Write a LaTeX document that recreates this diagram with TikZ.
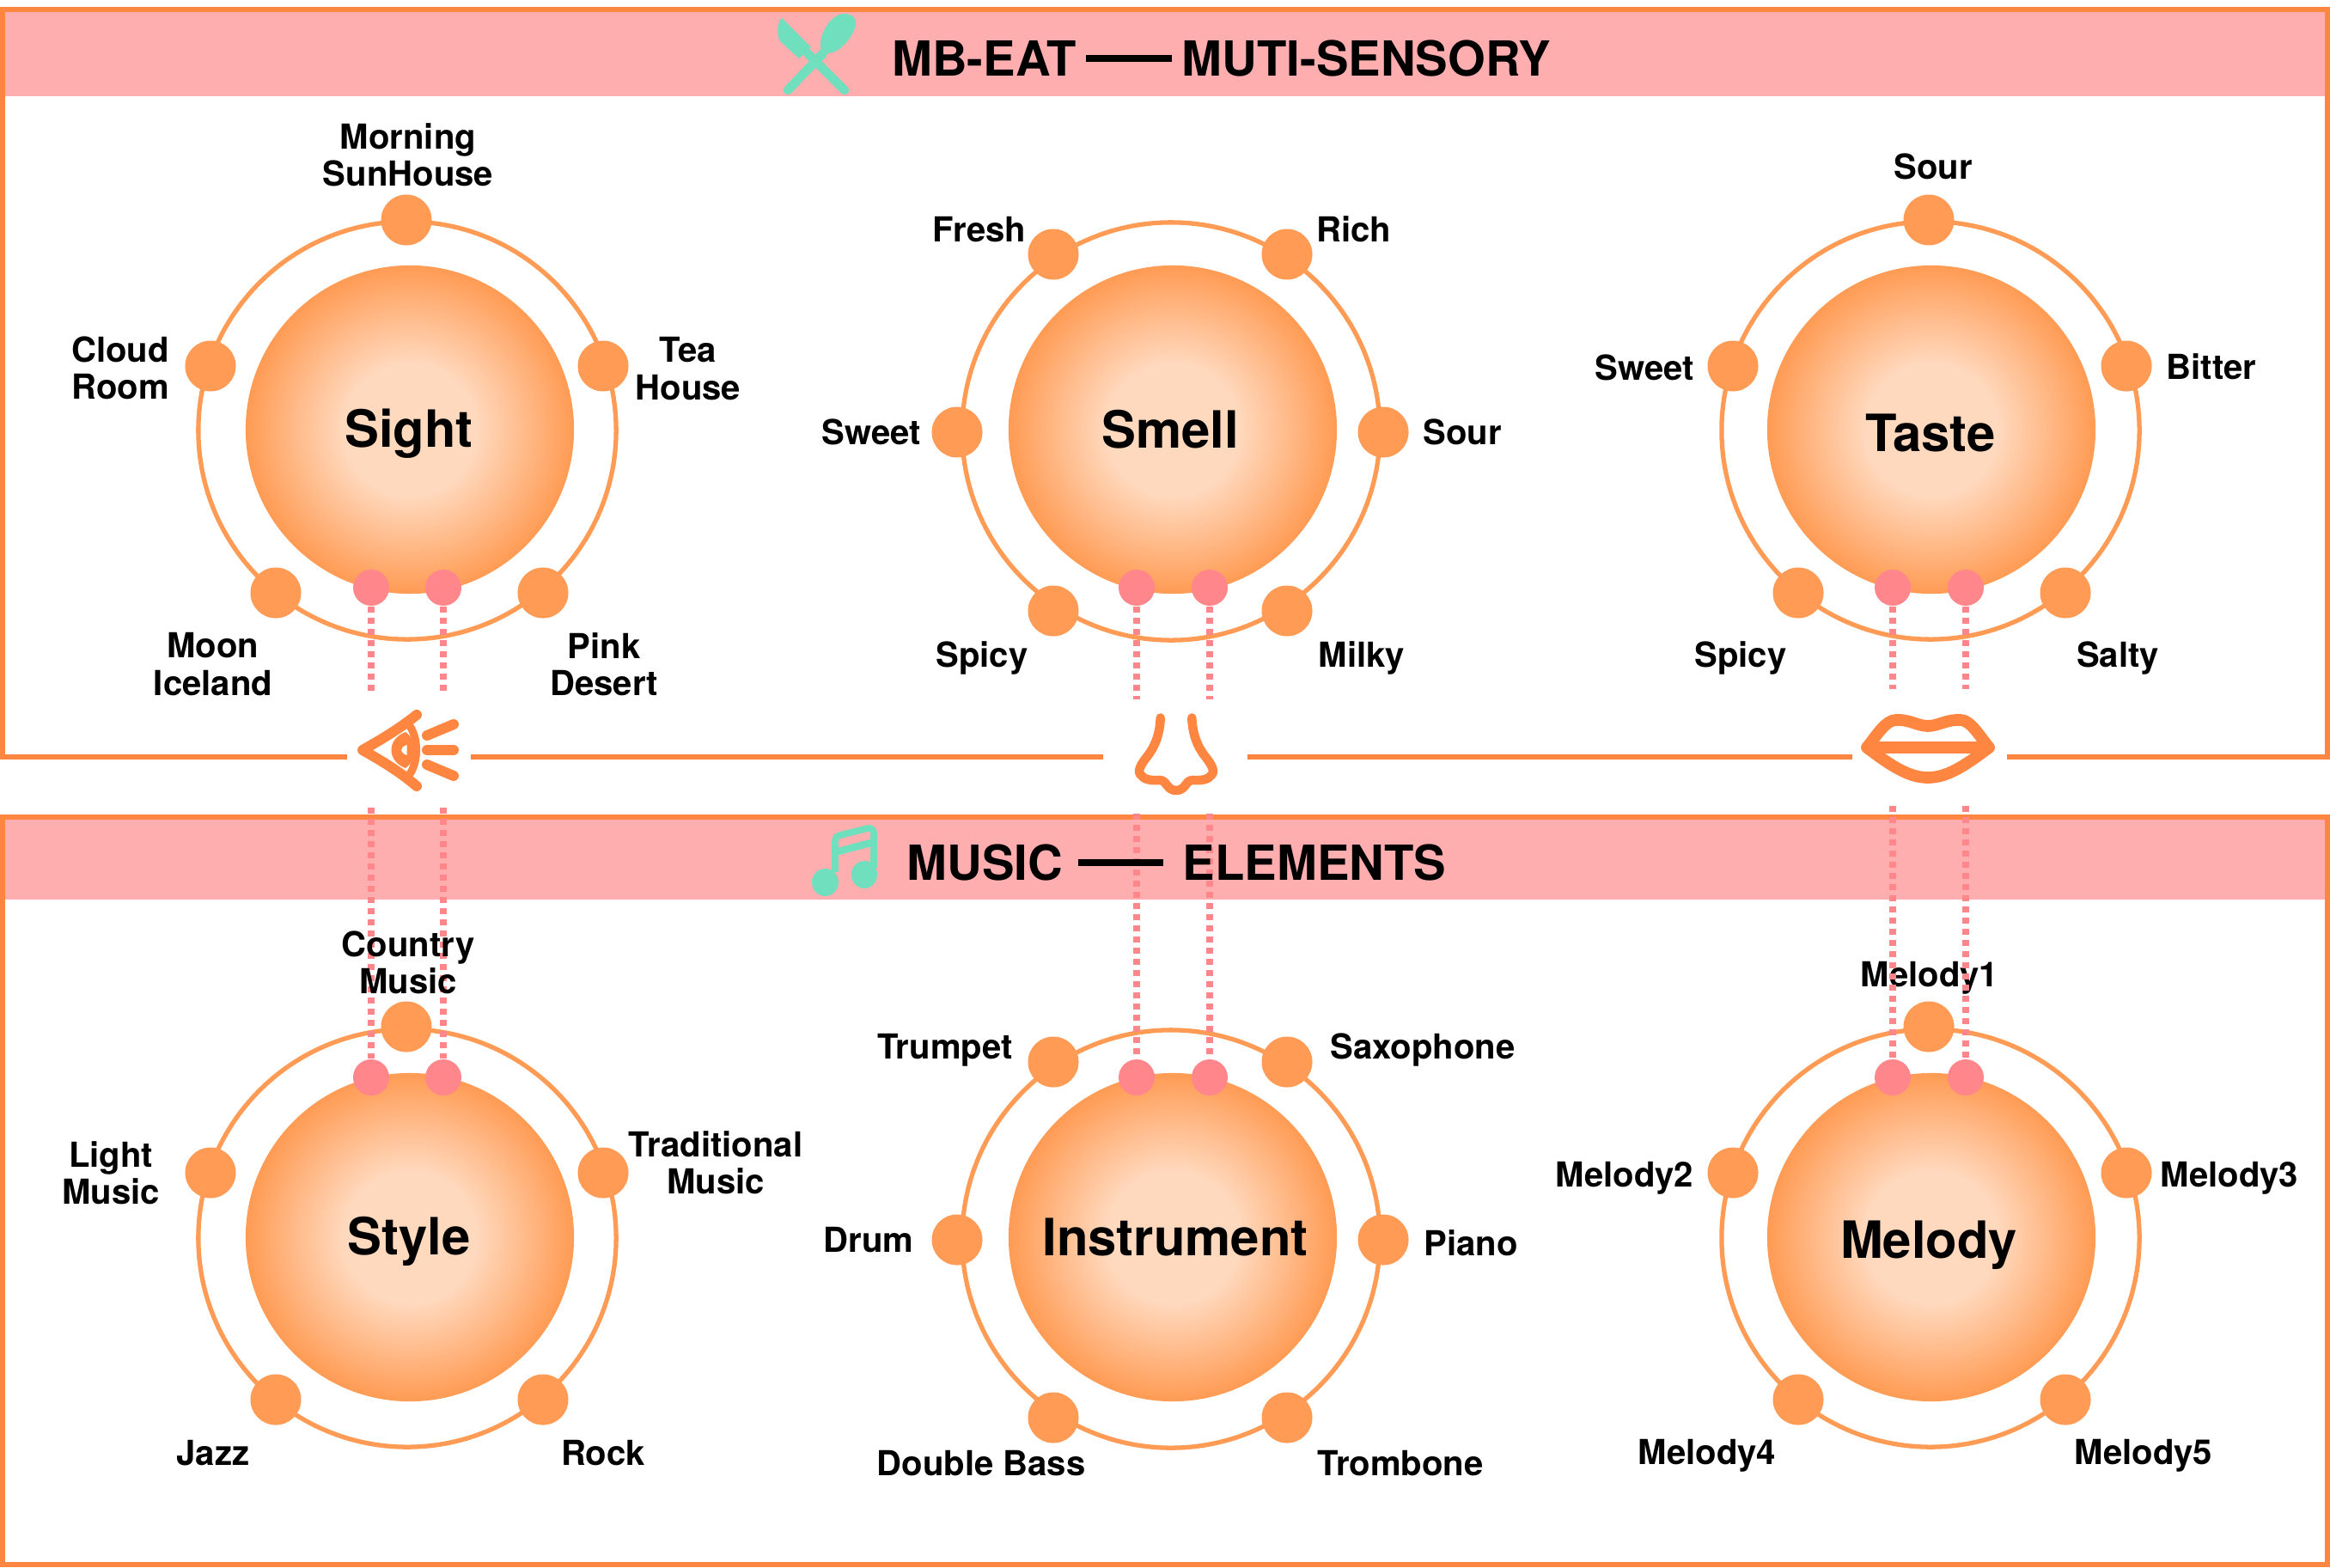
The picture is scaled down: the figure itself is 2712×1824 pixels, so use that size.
\documentclass[tikz,border=0pt]{standalone}
\usepackage{fontspec}
\setmainfont{TeX Gyre Heros}
\usetikzlibrary{calc, positioning}
\definecolor{lineorange}{HTML}{FF8640}
\definecolor{dotorange}{HTML}{FF9B54}
\definecolor{orbcore}{HTML}{FFD9BE}
\definecolor{bandpink}{HTML}{FFAEB0}
\definecolor{linkpink}{HTML}{FF868B}
\definecolor{iconteal}{HTML}{6FDFBD}
\pgfdeclareradialshading{orbshade}{\pgfpoint{0bp}{0bp}}{color(0bp)=(orbcore); color(10bp)=(orbcore); color(25bp)=(dotorange); color(50bp)=(dotorange)}
\tikzset{
  frameline/.style={lineorange, line width=1.71pt},
  ring/.style={circle, draw=dotorange, line width=1.5pt, minimum size=4.86cm, inner sep=0pt},
  orb/.style={circle, shading=orbshade, minimum size=3.82cm, inner sep=0pt},
  orbname/.style={font=\fontsize{17}{18}\selectfont\bfseries},
  sensedot/.style={circle, fill=dotorange, minimum size=0.59cm, inner sep=0pt},
  linkdot/.style={circle, fill=linkpink, minimum size=0.42cm, inner sep=0pt},
  linkline/.style={linkpink, line width=2.28pt, dash pattern=on 1.99pt off 1.71pt},
  itemname/.style={align=center, inner sep=0pt, font=\fontsize{11.4}{12.3}\selectfont\bfseries},
  headname/.style={inner xsep=0.11cm, inner ysep=0pt, font=\fontsize{16}{17}\selectfont\bfseries},
  headrule/.style={line width=2.2pt},
  iconline/.style={lineorange, line width=3.4pt, line cap=round, line join=round},
}
\begin{document}
\begin{tikzpicture}[x=0.01cm,y=-0.01cm]
\useasboundingbox (0,0) rectangle (2712,1824);

\fill[bandpink] (6,14) rectangle (2706,112);
\fill[bandpink] (6,954) rectangle (2706,1047);
\draw[frameline] (404,881) -- (3,881) -- (3,11) -- (2709,11) -- (2709,881) -- (2336,881);
\draw[frameline] (548,881) -- (1284,881);
\draw[frameline] (1452,881) -- (2156,881);
\draw[frameline] (3,951) rectangle (2709,1821);

\node[ring] (sightring) at (474,501) {};
\node[ring] (smellring) at (1363,502) {};
\node[ring] (tastering) at (2247,501) {};
\node[ring] (stylering) at (474,1441) {};
\node[ring] (instrring) at (1363,1442) {};
\node[ring] (melodyring) at (2247,1441) {};

\node[orb] (sight) at (477,500) {};
\node[orb] (smell) at (1365,500) {};
\node[orb] (taste) at (2248,500) {};
\node[orb] (style) at (477,1440) {};
\node[orb] (instr) at (1365,1440) {};
\node[orb] (melody) at (2248,1440) {};

\node[sensedot] (sighta) at (473,256) {};
\node[sensedot] (sightb) at (245,426) {};
\node[sensedot] (sightc) at (702,426) {};
\node[sensedot] (sightd) at (321,690) {};
\node[sensedot] (sighte) at (632,690) {};
\node[sensedot] (smella) at (1226,296) {};
\node[sensedot] (smellb) at (1498,296) {};
\node[sensedot] (smellc) at (1114,503) {};
\node[sensedot] (smelld) at (1610,503) {};
\node[sensedot] (smelle) at (1226,711) {};
\node[sensedot] (smellf) at (1498,711) {};
\node[sensedot] (tastea) at (2245,256) {};
\node[sensedot] (tasteb) at (2017,426) {};
\node[sensedot] (tastec) at (2475,426) {};
\node[sensedot] (tasted) at (2093,690) {};
\node[sensedot] (tastee) at (2404,690) {};
\node[sensedot] (stylea) at (473,1195) {};
\node[sensedot] (styleb) at (245,1365) {};
\node[sensedot] (stylec) at (702,1365) {};
\node[sensedot] (styled) at (321,1629) {};
\node[sensedot] (stylee) at (632,1629) {};
\node[sensedot] (instra) at (1226,1236) {};
\node[sensedot] (instrb) at (1498,1236) {};
\node[sensedot] (instrc) at (1114,1443) {};
\node[sensedot] (instrd) at (1610,1443) {};
\node[sensedot] (instre) at (1226,1650) {};
\node[sensedot] (instrf) at (1498,1650) {};
\node[sensedot] (melodya) at (2245,1195) {};
\node[sensedot] (melodyb) at (2017,1365) {};
\node[sensedot] (melodyc) at (2475,1365) {};
\node[sensedot] (melodyd) at (2093,1629) {};
\node[sensedot] (melodye) at (2404,1629) {};

\node[linkdot] (sightl) at (432,684) {};
\node[linkdot] (sightr) at (516,684) {};
\node[linkdot] (smelll) at (1323,684) {};
\node[linkdot] (smellr) at (1408,684) {};
\node[linkdot] (tastel) at (2203,684) {};
\node[linkdot] (taster) at (2288,684) {};
\node[linkdot] (stylel) at (432,1254) {};
\node[linkdot] (styler) at (516,1254) {};
\node[linkdot] (instrl) at (1323,1254) {};
\node[linkdot] (instrr) at (1408,1254) {};
\node[linkdot] (melodyl) at (2203,1254) {};
\node[linkdot] (melodyr) at (2288,1254) {};

\node[itemname] (melodyi) at (2246,1138) {Melody1};

\coordinate (sightlend) at (432,806);
\coordinate (sightrend) at (516,806);
\coordinate (smelllend) at (1323,814);
\coordinate (smellrend) at (1408,814);
\coordinate (tastelend) at (2203,802);
\coordinate (tasterend) at (2288,802);
\coordinate (stylelend) at (432,940);
\coordinate (stylerend) at (516,940);
\coordinate (instrlend) at (1323,947);
\coordinate (instrrend) at (1408,947);
\coordinate (melodylend) at (2203,938);
\coordinate (melodyrend) at (2288,938);
\draw[linkline] (sightl.south) -- (sightlend);
\draw[linkline] (sightr.south) -- (sightrend);
\draw[linkline] (smelll.south) -- (smelllend);
\draw[linkline] (smellr.south) -- (smellrend);
\draw[linkline] (tastel.south) -- (tastelend);
\draw[linkline] (taster.south) -- (tasterend);
\draw[linkline] (stylelend) -- (stylel.north);
\draw[linkline] (stylerend) -- (styler.north);
\draw[linkline] (instrlend) -- (instrl.north);
\draw[linkline] (instrrend) -- (instrr.north);
\draw[linkline] (melodylend) -- (melodyl.north);
\draw[linkline] (melodyrend) -- (melodyr.north);

\node[headname] (eatname) at (1145.5,68) {MB-EAT};
\node[headname] (sensename) at (1590.5,68) {MUTI-SENSORY};
\draw[headrule] (eatname) -- (sensename);
\node[headname, inner xsep=0.17cm] (musicname) at (1146.5,1004) {MUSIC};
\node[headname, inner xsep=0.22cm] (elemname) at (1530,1004) {ELEMENTS};
\draw[headrule] (musicname) -- (elemname);

\node[orbname] (sightname) at (476,505) {Sight};
\node[orbname] (smellname) at (1362,500) {Smell};
\node[orbname] (tastename) at (2247,504) {Taste};
\node[orbname] (stylename) at (476,1445) {Style};
\node[orbname] (instrname) at (1368,1440) {Instrument};
\node[orbname] (melodyname) at (2245,1449) {Melody};

\node[itemname] (morning) at (475,180) {Morning\\SunHouse};
\node[itemname] (cloud) at (140,428) {Cloud\\Room};
\node[itemname] (tea) at (801,429) {Tea\\House};
\node[itemname] (moon) at (248,773) {Moon\\Iceland};
\node[itemname] (desert) at (703,773) {Pink\\Desert};
\node[itemname] (fresh) at (1140,267) {Fresh};
\node[itemname] (rich) at (1576,267) {Rich};
\node[itemname] (sweeta) at (1014,503) {Sweet};
\node[itemname] (soura) at (1702,503) {Sour};
\node[itemname] (spicya) at (1143,766) {Spicy};
\node[itemname] (milky) at (1585,766) {Milky};
\node[itemname] (sourb) at (2250,194) {Sour};
\node[itemname] (sweetb) at (1914,428) {Sweet};
\node[itemname] (bitter) at (2574,427) {Bitter};
\node[itemname] (spicyb) at (2026,766) {Spicy};
\node[itemname] (salty) at (2465,766) {Salty};
\node[itemname] (country) at (475,1120) {Country\\Music};
\node[itemname] (light) at (129,1365) {Light\\Music};
\node[itemname] (tradition) at (833,1353) {Traditional\\Music};
\node[itemname] (jazz) at (248,1691) {Jazz};
\node[itemname] (rock) at (702,1691) {Rock};
\node[itemname] (trumpet) at (1100,1222) {Trumpet};
\node[itemname] (saxophone) at (1656,1222) {Saxophone};
\node[itemname] (drum) at (1011,1443) {Drum};
\node[itemname] (piano) at (1712,1447) {Piano};
\node[itemname] (bass) at (1142,1703) {Double Bass};
\node[itemname] (trombone) at (1630,1703) {Trombone};
\node[itemname] (melodyii) at (1891,1371) {Melody2};
\node[itemname] (melodyiii) at (2595,1371) {Melody3};
\node[itemname] (melodyiv) at (1987,1694) {Melody4};
\node[itemname] (melodyv) at (2495,1694) {Melody5};

\fill[iconteal] (910,21) .. controls (905,26) and (904,36) .. (907,47) -- (930,68) -- (944,55) -- cycle;
\fill[iconteal] (982,16) .. controls (966,17) and (954,40) .. (955,54) .. controls (955,64) and (966,63) .. (974,59) .. controls (986,52) and (997,34) .. (996,27) .. controls (996,19) and (990,16) .. (982,16) -- cycle;
\draw[iconteal, line width=3pt, line cap=round] (958,62) -- (917,105);
\draw[iconteal, line width=3pt, line cap=round] (940,62) -- (983,105);

\draw[iconteal, line width=2.2pt, line join=round] (972,1015) -- (972,980) .. controls (972,975) and (974,973) .. (978,972) -- (1010,964) .. controls (1014,963) and (1017,966) .. (1017,970) -- (1017,1010);
\draw[iconteal, line width=2.4pt] (972,992) -- (1017,980);
\fill[iconteal] (960.5,1027) ellipse (15.5 and 16);
\fill[iconteal] (1006,1018) ellipse (15 and 16);

\draw[iconline] (485,832) .. controls (465,848) and (445,860) .. (422,873) .. controls (445,886) and (465,898) .. (485,915);
\draw[iconline, line width=2.6pt] (477,845) .. controls (487,860) and (487,886) .. (477,901);
\fill[lineorange] (472,852) .. controls (450,860) and (450,886) .. (472,894) .. controls (486,884) and (486,862) .. cycle;
\fill[white] (473.5,867) .. controls (465,870) and (465,876) .. (473.5,879) -- cycle;
\draw[iconline] (497,856) -- (528,843);
\draw[iconline] (497,873) -- (528,873);
\draw[iconline] (497,890) -- (528,903);

\draw[iconline, line width=3pt] (1350.7,835.5) .. controls (1350,855) and (1344,870) .. (1334,882) .. controls (1327,891) and (1323,899) .. (1329,903) .. controls (1334,909) and (1342,908) .. (1350,908) .. controls (1358,908) and (1358,920) .. (1369,920) .. controls (1380,920) and (1380,908) .. (1388,908) .. controls (1396,908) and (1404,909) .. (1409,903) .. controls (1415,899) and (1411,891) .. (1404,882) .. controls (1394,870) and (1388,855) .. (1387.3,835.5);

\draw[iconline, line width=3.9pt] (2173,870) .. controls (2185,855) and (2195,838) .. (2207,838) .. controls (2222,837) and (2232,845) .. (2244,845) .. controls (2256,845) and (2266,837) .. (2282,838) .. controls (2293,838) and (2303,855) .. (2315,870) .. controls (2285,893) and (2265,905) .. (2244,905) .. controls (2223,905) and (2203,893) .. (2173,870) -- cycle;
\draw[iconline, line width=3.8pt] (2173,870) -- (2315,870);
\end{tikzpicture}
\end{document}
